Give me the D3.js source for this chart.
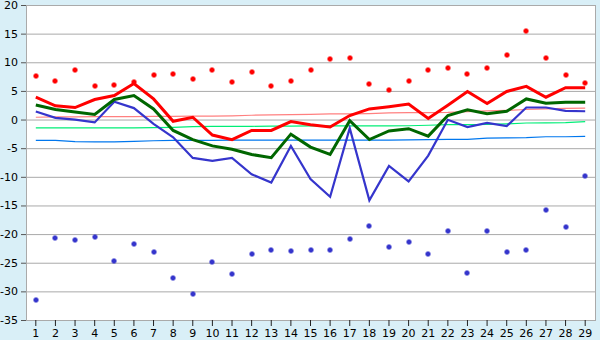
<!DOCTYPE html>
<html>
<head>
<meta charset="utf-8">
<script src="https://cdn.jsdelivr.net/npm/d3@7"></script>
<style>
  body { margin: 0; background: #d9eff7; }
  svg { display: block; }
  text { font-family: "DejaVu Sans", Verdana, sans-serif; font-size: 11px; fill: #000; }
</style>
</head>
<body>
<div id="chart"></div>
<script>
// chart data
var days = d3.range(1, 30);
var yTicks = [20, 15, 10, 5, 0, -5, -10, -15, -20, -25, -30, -35];

var maxLine = [3.9, 2.4, 2.1, 3.5, 4.2, 6.3, 3.6, -0.3, 0.4, -2.7, -3.5, -1.9, -1.9, -0.35, -0.9, -1.3, 0.7, 1.85, 2.25, 2.7, 0.2, 2.5, 4.9, 2.8, 4.9, 5.8, 3.9, 5.55, 5.55];
var meanLine = [2.55, 1.75, 1.3, 0.9, 3.5, 4.2, 1.85, -1.9, -3.5, -4.6, -5.2, -6.1, -6.65, -2.55, -4.8, -6.1, -0.2, -3.5, -2.0, -1.6, -2.9, 0.7, 1.7, 1.0, 1.45, 3.6, 2.85, 3.0, 3.0];
var minLine = [1.4, 0.3, 0.0, -0.5, 3.1, 2.0, -0.75, -3.1, -6.7, -7.2, -6.7, -9.55, -11.0, -4.6, -10.4, -13.5, -1.5, -14.1, -8.1, -10.8, -6.3, -0.05, -1.3, -0.6, -1.15, 2.1, 2.1, 1.5, 1.45];

var recordHigh = [7.6, 6.7, 8.6, 5.85, 6.0, 6.6, 7.75, 8.0, 7.05, 8.6, 6.55, 8.3, 5.85, 6.7, 8.6, 10.5, 10.7, 6.2, 5.15, 6.7, 8.6, 9.0, 7.9, 9.0, 11.3, 15.4, 10.7, 7.75, 6.35];
var recordLow = [-31.5, -20.7, -21.1, -20.5, -24.7, -21.8, -23.1, -27.7, -30.4, -24.9, -27.0, -23.5, -22.8, -23.0, -22.8, -22.8, -20.9, -18.6, -22.3, -21.4, -23.5, -19.5, -26.8, -19.5, -23.1, -22.8, -15.85, -18.8, -9.8];

var normMax = [0.4, 0.45, 0.45, 0.5, 0.5, 0.5, 0.55, 0.55, 0.6, 0.6, 0.65, 0.75, 0.8, 0.85, 0.9, 1.0, 1.0, 1.05, 1.15, 1.2, 1.2, 1.25, 1.4, 1.5, 1.6, 1.75, 1.85, 1.95, 2.0];
var normMean = [-1.45, -1.45, -1.45, -1.45, -1.45, -1.45, -1.42, -1.35, -1.25, -1.2, -1.2, -1.18, -1.15, -1.15, -1.12, -1.1, -1.1, -1.1, -1.1, -1.08, -1.0, -0.9, -0.87, -0.85, -0.75, -0.6, -0.58, -0.55, -0.35];
var normMin = [-3.65, -3.65, -3.85, -3.9, -3.9, -3.8, -3.7, -3.65, -3.65, -3.62, -3.6, -3.6, -3.6, -3.6, -3.6, -3.6, -3.6, -3.6, -3.58, -3.55, -3.5, -3.45, -3.45, -3.25, -3.2, -3.15, -3.0, -3.0, -2.95];

var width = 600, height = 340;
var plot = { left: 26, right: 595, top: 5, bottom: 320 };

var svg = d3.select("#chart").append("svg")
    .attr("width", width)
    .attr("height", height);

var x = d3.scaleBand()
    .domain(days)
    .range([plot.left, plot.right]);

var y = d3.scaleLinear()
    .domain([-35, 20])
    .range([plot.bottom, plot.top]);

function cx(d) { return x(d) + x.bandwidth() / 2; }

// plot area
svg.append("rect")
    .attr("x", plot.left).attr("y", plot.top)
    .attr("width", plot.right - plot.left).attr("height", plot.bottom - plot.top)
    .attr("fill", "#fff");

// y axis with gridlines (plain hyphen for negatives, like the original)
var yAxis = svg.append("g")
    .attr("transform", "translate(" + plot.left + ",0)")
    .call(d3.axisLeft(y).tickValues(yTicks).tickSize(5).tickPadding(3).tickFormat(function(d) { return String(d); }));
yAxis.select(".domain").remove();
yAxis.selectAll("line").attr("stroke", "#555");
yAxis.selectAll("text").style("font-size", "11px");
yAxis.selectAll(".tick").append("line")
    .attr("x2", plot.right - plot.left)
    .attr("stroke", "#aaa");

// frame
svg.append("rect")
    .attr("x", plot.left + 0.5).attr("y", plot.top + 0.5)
    .attr("width", plot.right - plot.left).attr("height", plot.bottom - plot.top)
    .attr("fill", "none")
    .attr("stroke", "#aaa");

// x axis
var xAxis = svg.append("g")
    .attr("transform", "translate(0," + plot.bottom + ")")
    .call(d3.axisBottom(x).tickSize(6).tickPadding(3));
xAxis.select(".domain").remove();
xAxis.selectAll("line").attr("stroke", "#222");
xAxis.selectAll("text").style("font-size", "11px");

// thin normal lines
var thin = [
    { values: normMax, color: "#ff8080" },
    { values: normMean, color: "#00ee77" },
    { values: normMin, color: "#0077ee" }
];

var line = d3.line()
    .x(function(d, i) { return cx(days[i]); })
    .y(function(d) { return y(d); });

svg.selectAll(".norm")
    .data(thin)
  .enter().append("path")
    .attr("class", "norm")
    .attr("d", function(d) { return line(d.values); })
    .attr("fill", "none")
    .attr("stroke", function(d) { return d.color; })
    .attr("stroke-width", 1.2);

// main lines
var mains = [
    { values: minLine, color: "#3535cc", w: 2.2 },
    { values: meanLine, color: "#006600", w: 3 },
    { values: maxLine, color: "#ff0000", w: 3 }
];

svg.selectAll(".main")
    .data(mains)
  .enter().append("path")
    .attr("class", "main")
    .attr("d", function(d) { return line(d.values); })
    .attr("fill", "none")
    .attr("stroke", function(d) { return d.color; })
    .attr("stroke-width", function(d) { return d.w; })
    .attr("stroke-linejoin", "miter");

// record markers: small 5px square with clipped corners
var marker = "M-1.5,-2.5H1.5V-1.5H2.5V1.5H1.5V2.5H-1.5V1.5H-2.5V-1.5H-1.5Z";

svg.selectAll(".hi")
    .data(recordHigh)
  .enter().append("path")
    .attr("class", "hi")
    .attr("d", marker)
    .attr("transform", function(d, i) { return "translate(" + Math.round(cx(days[i])) + "," + Math.round(y(d)) + ")"; })
    .attr("fill", "#ff0000");

svg.selectAll(".lo")
    .data(recordLow)
  .enter().append("path")
    .attr("class", "lo")
    .attr("d", marker)
    .attr("transform", function(d, i) { return "translate(" + Math.round(cx(days[i])) + "," + Math.round(y(d)) + ")"; })
    .attr("fill", "#3535cc");
</script>
</body>
</html>
